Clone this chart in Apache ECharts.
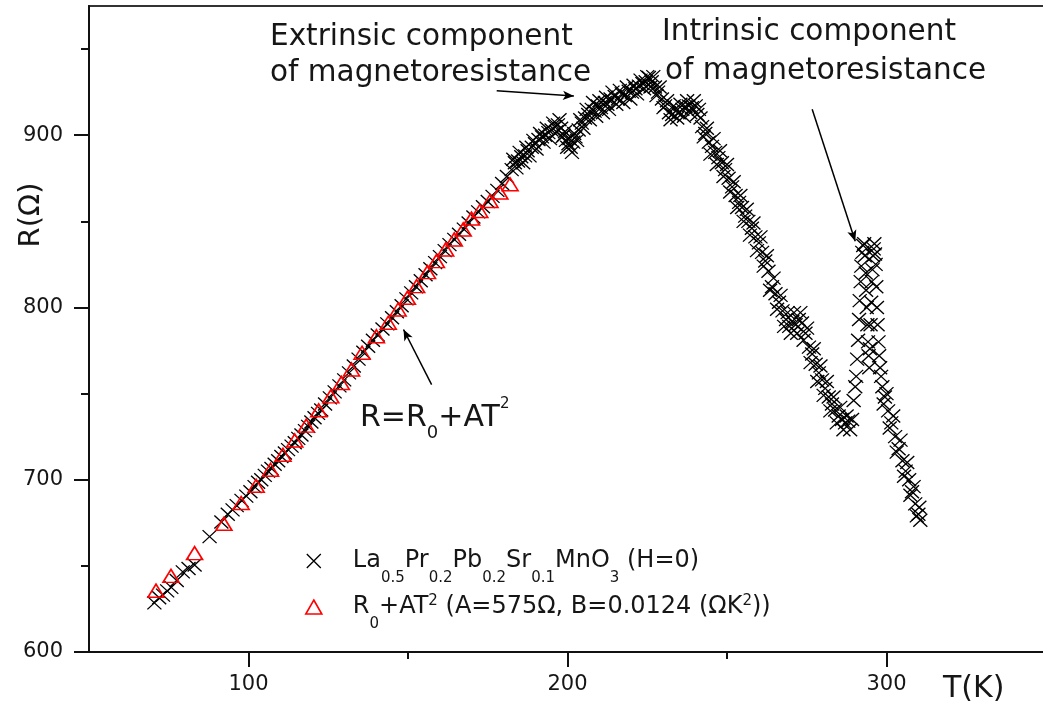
<!DOCTYPE html>
<html>
<head>
<meta charset="utf-8">
<script src="https://cdn.jsdelivr.net/npm/echarts@6/dist/echarts.min.js"></script>
<style>html,body{margin:0;padding:0;background:#fff}#chart{width:1043px;height:710px}</style>
</head>
<body>
<div id="chart"></div>
<script>
// ---- data: [T (K), R (Ohm)] ----
const measuredLow = [[70.5,628.5],[72.0,631.5],[73.2,633.0],[74.5,635.5],[75.8,637.5],[77.5,641.5],[79.4,646.5],[81.2,648.5],[83.1,650.5],[87.8,667.0],[91.5,675.5],[93.5,680.0],[95.0,682.5],[96.3,685.0],[97.8,688.0],[99.3,690.5],[100.6,693.0],[101.9,696.0],[103.0,698.5],[104.0,700.0],[105.1,702.5],[106.1,705.0],[107.2,706.5],[108.2,709.0],[109.3,711.0],[110.3,713.5],[111.4,715.5],[112.4,717.5],[113.5,719.5],[114.5,721.5],[115.6,724.0],[116.6,726.0],[117.7,728.5],[118.7,731.0],[119.7,733.5],[120.7,736.0],[121.8,738.5],[122.8,740.5]];
const measuredMid = [[124.0,744.0],[125.5,747.5],[127.0,751.0],[128.5,754.5],[130.0,758.0],[131.5,762.0],[133.0,766.0],[134.5,770.0],[136.0,774.0],[137.5,777.5],[139.0,781.0],[140.5,784.0],[142.0,787.5],[143.5,790.5],[145.0,794.0],[146.5,797.5],[148.0,801.0],[149.5,805.0],[151.0,808.5],[152.5,812.0],[154.0,815.5],[155.5,819.0],[157.0,822.5],[158.5,826.0],[160.0,829.5],[161.5,833.0],[163.0,836.5],[164.5,839.5],[166.0,842.5],[167.5,845.5],[169.0,849.0],[170.5,852.5],[172.0,855.5],[173.5,858.5],[175.0,861.5],[176.5,864.5],[178.0,868.0],[179.5,872.0],[181.0,876.0]];
const measuredHigh = [[182.5,880],[183.5,884],[184.5,885],[185.5,887.5],[186.7,888],[187.5,891],[188.8,893],[189.8,895],[190.9,897.5],[192,899],[193,900],[194,901.5],[195,903],[196,905],[197,906],[198,904],[198.8,900],[199.5,897],[200.3,895],[201,893],[201.8,896],[202.5,899],[203.5,903],[204.5,907],[205.5,910],[206.5,912],[207.6,915],[208.5,914],[209.5,917],[210.5,916],[211.7,919],[212.5,918],[213.5,921],[214.8,922.5],[215.8,921],[217,924],[218,923],[219.2,925.5],[220.2,925],[221.3,927],[222.4,928.5],[223.5,930],[224.5,931],[225.5,933.5],[226.4,931],[227.4,928],[228.4,925],[229.6,921],[230.6,917],[231.8,913],[232.8,912],[233.9,914],[234.9,913],[236,915],[237,916.5],[238,917],[239,916],[240.2,917],[241.2,915],[242.2,905],[243.2,901],[244.3,896],[245.3,893.5],[246.3,890],[247.3,887],[248.4,884],[249.4,880],[250.5,875],[251.6,870],[252.7,865],[253.8,861],[254.7,858],[255.7,853],[256.7,850],[257.8,846],[258.9,841],[260,837.5],[261,832],[262,827],[263,821],[264.1,812],[265.2,808],[266.3,803],[267.4,798],[268.5,793],[269.5,789],[270.5,792],[271.5,790],[272.5,793],[273.5,791],[274.6,785],[275.7,777],[276.7,773],[277.8,767],[278.8,762],[279.8,758],[280.8,753],[281.9,748],[282.9,744],[283.9,740.5],[285,737],[286,735],[287,733],[288,734],[289.2,735],[290.2,754],[290.8,770],[291.4,793],[291.9,815],[292.4,832],[293,837],[293.5,820],[293.8,800],[294.2,780],[294.6,765],[295,790],[295.4,815],[295.8,830],[296.2,837],[296.6,825],[297,800],[297.5,780],[298,765],[298.7,754],[299.5,748],[300.5,740],[301.5,733],[302.7,725],[303.8,718],[305,711],[306,705],[307.1,700],[308,693],[309,686],[310,680],[310.6,676.5]];
// second pass of the noisy band (upper / lower edges of the scatter)
const measuredHighBand = [[183.0,886],[184.0,881],[185.0,890],[186.1,884],[187.1,893],[188.1,888],[189.3,897],[190.3,892],[191.4,901],[192.5,896],[193.5,904],[194.5,898],[195.5,907],[196.5,902],[197.5,909],[198.4,899],[199.2,902],[199.9,893],[200.6,898],[201.4,890],[202.1,901],[203.0,897],[204.0,909],[205.0,904],[206.0,915],[207.0,909],[208.0,919],[209.0,911],[210.0,920],[211.1,913],[212.1,922],[213.0,915],[214.1,925],[215.3,918],[216.4,926],[217.5,919],[218.6,928],[219.7,921],[220.7,929],[221.8,924],[222.9,932],[224.0,927],[225.0,934],[226.0,928],[226.9,934],[227.9,923],[228.9,928],[230.1,916],[231.2,920],[232.3,909],[233.3,917],[234.4,910],[235.4,918],[236.5,911],[237.5,920],[238.5,913],[239.6,920],[240.7,912],[241.7,910],[242.7,899],[243.7,904],[244.8,889],[245.8,898],[246.8,883],[247.8,891],[248.9,876],[250.0,883],[251.0,867],[252.1,873],[253.2,858],[254.2,865],[255.2,850],[256.2,857],[257.2,842],[258.3,849],[259.4,833],[260.5,841],[261.5,824],[262.5,830],[263.5,810],[264.6,817],[265.7,799],[266.8,807],[267.9,789],[269.0,797],[270.0,785],[271.0,797],[272.0,785],[273.0,797],[274.0,781],[275.1,788],[276.2,768],[277.2,776],[278.3,757],[279.3,766],[280.3,749],[281.3,757],[282.4,740],[283.4,748],[284.4,733],[285.5,742],[286.5,729],[287.5,737],[288.6,729],[289.7,746],[290.5,760],[291.1,781],[291.6,804],[292.1,824],[292.7,836],[293.2,830],[293.6,810],[294.0,790],[294.4,772],[294.8,776],[295.2,803],[295.6,822],[296.0,834],[296.4,831],[296.8,812],[297.2,790],[297.7,772],[298.3,760],[299.1,744],[300.0,750],[301.0,730],[302.1,737],[303.2,716],[304.4,723],[305.5,702],[306.5,710],[307.5,691],[308.5,696],[309.5,679],[310.3,684]];
const fitPoints = [[71.0,635.6],[75.7,644.2],[83.1,657.4],[92.3,674.4],[97.7,686.5],[102.4,696.5],[106.9,705.8],[110.8,714.5],[114.5,722.8],[118.1,731.4],[122.0,740.3],[125.8,748.4],[129.1,756.2],[132.3,764.0],[135.6,773.7],[140.1,783.3],[143.8,791.1],[146.9,798.8],[149.8,805.6],[152.7,812.4],[156.1,820.5],[158.9,826.9],[161.8,833.7],[164.5,839.5],[167.3,845.3],[169.9,851.6],[172.5,856.0],[175.7,861.8],[178.8,866.7],[182.0,871.5]];

const xTickLabels = [100, 200, 300];
const xMinorTicks = [150, 250];
const yTickLabels = [600, 700, 800, 900];
const yMinorTicks = [650, 750, 850, 950];

const seriesNames = ['La0.5Pr0.2Pb0.2Sr0.1MnO3 (H=0)', 'R0+AT2 (A=575\u03A9, B=0.0124 (\u03A9K2))'];

// annotation arrows: [from, to] in data coordinates
const arrowExtrinsic = [[177.8, 925.8], [202.0, 922.7]];
const arrowIntrinsic = [[276.7, 915.1], [290.2, 838.5]];
const arrowFit = [[157.4, 755.2], [148.6, 787.2]];

const FONT = 'DejaVu Sans';
const TXT = '#161616';

const chart = echarts.init(document.getElementById('chart'));

const measured = measuredLow.concat(measuredMid, measuredHigh, measuredHighBand);

const arrowLine = a => [{ coord: a[0] }, { coord: a[1] }];

const option = {
  animation: false,
  backgroundColor: '#fff',
  grid: { left: 89, right: -3, top: 6, bottom: 58, containLabel: false, outerBoundsMode: 'none', show: true, borderColor: '#333', borderWidth: 2, backgroundColor: 'transparent' },
  xAxis: [
    {
      type: 'value', min: 50, max: 350, position: 'bottom',
      name: 'T(K)', nameLocation: 'end', nameGap: -103,
      nameTextStyle: { fontFamily: FONT, fontSize: 30, color: TXT, align: 'left', verticalAlign: 'top', padding: [22, 0, 0, 0] },
      axisLine: { show: true, onZero: false, lineStyle: { color: '#111', width: 2 } },
      axisTick: { show: true, length: 15, customValues: xTickLabels, lineStyle: { color: '#111', width: 2 } },
      axisLabel: { customValues: xTickLabels, margin: 22, fontFamily: FONT, fontSize: 21, color: TXT },
      splitLine: { show: false }
    },
    {
      type: 'value', min: 50, max: 350, position: 'bottom',
      axisLine: { show: false },
      axisTick: { show: true, length: 7, customValues: xMinorTicks, lineStyle: { color: '#111', width: 2 } },
      axisLabel: { show: false },
      splitLine: { show: false }
    }
  ],
  yAxis: [
    {
      type: 'value', min: 600, max: 975, position: 'left',
      axisLine: { show: true, onZero: false, lineStyle: { color: '#111', width: 2 } },
      axisTick: { show: true, length: 15, customValues: yTickLabels, lineStyle: { color: '#111', width: 2 } },
      axisLabel: { customValues: yTickLabels, margin: 26, fontFamily: FONT, fontSize: 21, color: TXT },
      splitLine: { show: false }
    },
    {
      type: 'value', min: 600, max: 975, position: 'left',
      axisLine: { show: false },
      axisTick: { show: true, length: 8, customValues: yMinorTicks, lineStyle: { color: '#111', width: 2 } },
      axisLabel: { show: false },
      splitLine: { show: false }
    }
  ],
  legend: {
    orient: 'vertical', left: 305, top: 548, padding: 0,
    itemWidth: 16, itemHeight: 14, itemGap: 8, selectedMode: false,
    data: [
      { name: seriesNames[0], icon: 'path://M0,0L12,12M12,0L0,12', itemStyle: { color: 'transparent', borderColor: '#000', borderWidth: 1.3 } },
      { name: seriesNames[1], icon: 'triangle', itemStyle: { color: 'transparent', borderColor: '#ff0000', borderWidth: 1.6 } }
    ],
    formatter: function (name) {
      if (name === seriesNames[0]) {
        return '{g| }{m|La}{s|0.5}{m|Pr}{s|0.2}{m|Pb}{s|0.2}{m|Sr}{s|0.1}{m|MnO}{s|3}{m| (H=0)}';
      }
      return '{g| }{m|R}{s|0}{m|+AT}{p|2}{m| (A=575\u03A9, B=0.0124 (\u03A9K}{p|2}{m|))}';
    },
    textStyle: {
      fontFamily: FONT, color: TXT,
      rich: {
        g: { width: 26, fontSize: 22, lineHeight: 26 },
        m: { fontFamily: FONT, fontSize: 24, lineHeight: 26, color: TXT, verticalAlign: 'middle' },
        s: { fontFamily: FONT, fontSize: 15, lineHeight: 15, color: TXT, verticalAlign: 'top', padding: [23, 0, 0, 0] },
        p: { fontFamily: FONT, fontSize: 15, lineHeight: 15, color: TXT, verticalAlign: 'top' }
      }
    }
  },
  series: [
    {
      name: seriesNames[0], type: 'scatter',
      symbol: 'path://M0,0L12,12M12,0L0,12', symbolSize: [14, 13],
      itemStyle: { color: 'transparent', borderColor: '#000', borderWidth: 1.3, opacity: 1 },
      emphasis: { disabled: true },
      data: measured,
      markLine: {
        silent: true, symbol: ['none', 'arrow'], symbolSize: [7, 11],
        lineStyle: { color: '#000', width: 1.5, type: 'solid' },
        label: { show: false }, emphasis: { disabled: true },
        data: [arrowLine(arrowExtrinsic), arrowLine(arrowIntrinsic), arrowLine(arrowFit)]
      },
      z: 2
    },
    {
      name: seriesNames[1], type: 'scatter',
      symbol: 'triangle', symbolSize: [16, 13],
      itemStyle: { color: 'transparent', borderColor: '#ff0000', borderWidth: 1.6, opacity: 1 },
      emphasis: { disabled: true },
      data: fitPoints,
      z: 3
    }
  ],
  graphic: [
    { type: 'text', x: 31, y: 215, rotation: Math.PI / 2, style: { text: 'R(\u03A9)', fontFamily: FONT, fontSize: 29, fill: TXT, align: 'center', verticalAlign: 'middle' } },
    { type: 'text', x: 270, y: 37, style: { text: 'Extrinsic component', fontFamily: FONT, fontSize: 29.5, fill: TXT, verticalAlign: 'middle' } },
    { type: 'text', x: 270, y: 73, style: { text: 'of magnetoresistance', fontFamily: FONT, fontSize: 29.5, fill: TXT, verticalAlign: 'middle' } },
    { type: 'text', x: 662, y: 32, style: { text: 'Intrinsic component', fontFamily: FONT, fontSize: 29.5, fill: TXT, verticalAlign: 'middle' } },
    { type: 'text', x: 665, y: 71, style: { text: 'of magnetoresistance', fontFamily: FONT, fontSize: 29.5, fill: TXT, verticalAlign: 'middle' } },
    { type: 'text', x: 360, y: 418, style: {
        text: '{a|R=R}{b|0}{a|+AT}{c|2}', verticalAlign: 'middle',
        rich: {
          a: { fontFamily: FONT, fontSize: 30, lineHeight: 42, fill: TXT, verticalAlign: 'middle' },
          b: { fontFamily: FONT, fontSize: 18, lineHeight: 18, fill: TXT, verticalAlign: 'top', padding: [27, 0, 0, 0] },
          c: { fontFamily: FONT, fontSize: 15, lineHeight: 15, fill: TXT, verticalAlign: 'top' }
        }
      } }
  ]
};

chart.setOption(option);
</script>
</body>
</html>
